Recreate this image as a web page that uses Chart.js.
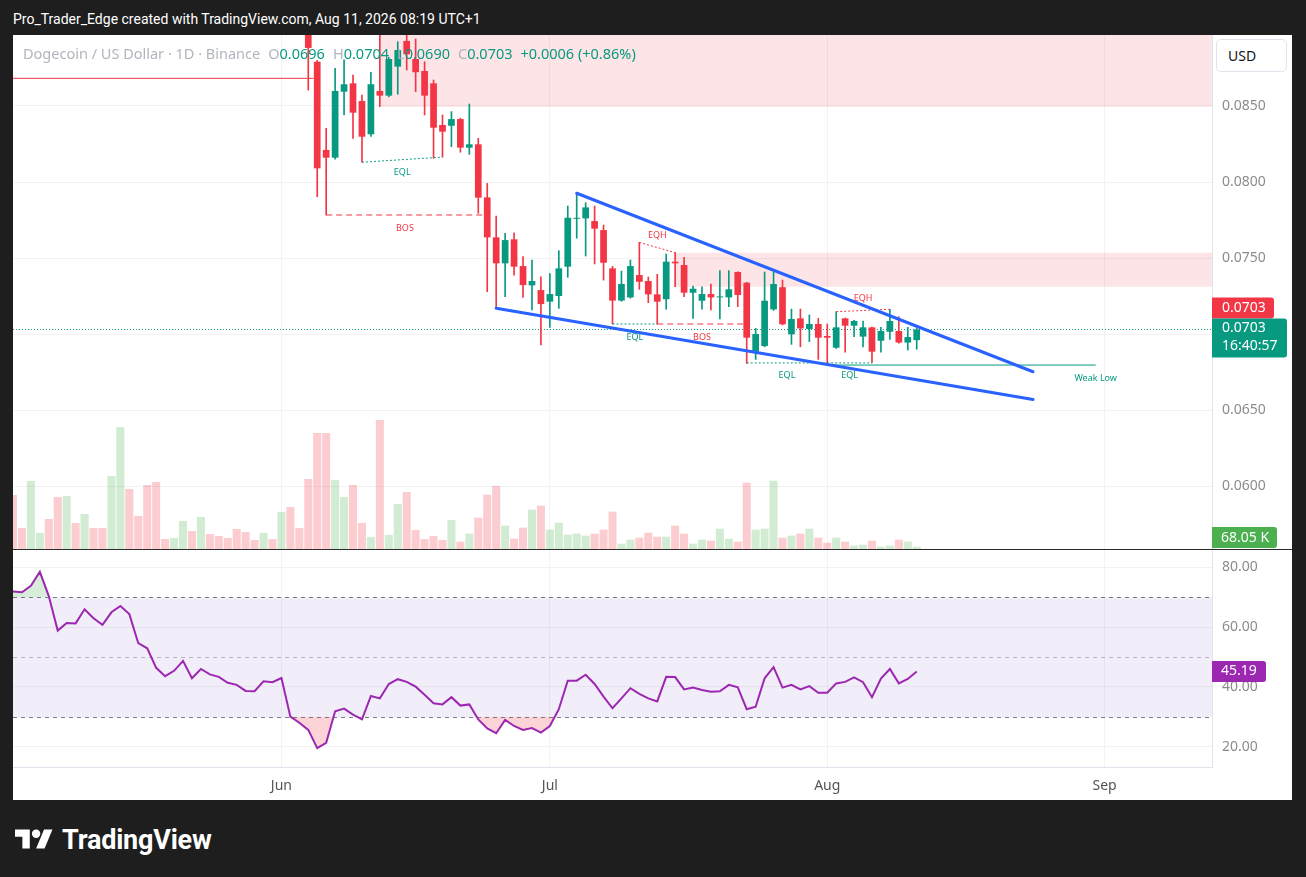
<!DOCTYPE html>
<html>
<head>
<meta charset="utf-8">
<script src="https://cdn.jsdelivr.net/npm/chart.js"></script>
<title>Dogecoin / US Dollar</title>
<style>
  html, body { margin: 0; padding: 0; }
  body { width: 1306px; height: 877px; background: #1e1e1e; overflow: hidden; position: relative;
         font-family: Roboto, "Noto Sans", sans-serif; }
  #title { position: absolute; left: 13px; top: 10px; color: #fff; font-size: 14px; line-height: 18px; }
  #panel { position: absolute; left: 13px; top: 35px; width: 1279px; height: 765px; background: #fff; }
  #mainBox { position: absolute; left: 0; top: 0; width: 1279px; height: 514px; }
  #sep { position: absolute; left: 0; top: 514px; width: 1279px; height: 1px; background: #2b2b2b; }
  #rsiBox { position: absolute; left: 0; top: 515px; width: 1279px; height: 250px; }
  #legend { position: absolute; left: 10px; top: 8px; font-family: "Noto Sans", Roboto, sans-serif;
            font-size: 14.5px; line-height: 20px; color: #b2b5be; white-space: pre; pointer-events: none; }
  #legend .v { color: #089981; }
  #legend .gap { margin-left: 8px; }
  #usd { position: absolute; left: 1203px; top: 4px; width: 71px; height: 33px; box-sizing: border-box;
         border: 1px solid #e0e3eb; border-radius: 5px; background: #fff; color: #131722;
         font-family: "Noto Sans", Roboto, sans-serif; font-size: 14px; line-height: 31px; padding-left: 11px; }
  #logo { position: absolute; left: 15px; top: 824px; display: flex; align-items: center; color: #fff;
          font-size: 27px; font-weight: 700; }
  #logo span { margin-left: 9px; letter-spacing: -0.2px; }
</style>
</head>
<body>
<div id="title">Pro_Trader_Edge created with TradingView.com, Aug 11, 2026 08:19 UTC+1</div>
<div id="panel">
  <div id="mainBox"><canvas id="mainChart"></canvas></div>
  <div id="sep"></div>
  <div id="rsiBox"><canvas id="rsiChart"></canvas></div>
  <div id="legend"></div>
  <div id="usd">USD</div>
</div>
<div id="logo">
  <svg width="38" height="30" viewBox="0 0 36 28"><path d="M14 22H7V11H0V4h14v18zM28 22h-8l7.5-18h8L28 22z" fill="#fff"/><circle cx="20" cy="8" r="4" fill="#fff"/></svg>
  <span>TradingView</span>
</div>

<script>
// days are counted from Jun 1 (May 2 = -30, Aug 11 = 71)
const firstDay = -30;
const candleStart = 3;
const xMin = -30, xMax = 104;
const monthTicks = [0, 30, 61, 92];
const monthLabels = ['Jun', 'Jul', 'Aug', 'Sep'];
const priceTicks = [0.0600, 0.0650, 0.0700, 0.0750, 0.0800, 0.0850];
const priceMin = 0.05586, priceMax = 0.08967;
const rsiTicks = [20, 40, 60, 80];
const rsiMin = 13.33, rsiMax = 85.67;
const volMax = 15420;

// daily candles Jun 4 .. Aug 11
const opens = [0.0905, 0.08791, 0.08211, 0.08160, 0.08594, 0.08649, 0.08533, 0.08314, 0.08599, 0.08568,
  0.08759, 0.08928, 0.08809, 0.08730, 0.08649, 0.08375, 0.08370, 0.08414, 0.08226, 0.08248,
  0.07899, 0.07636, 0.07465, 0.07623, 0.07447, 0.07320, 0.07289, 0.07213, 0.07250, 0.07443,
  0.07758, 0.07761, 0.07743, 0.07684, 0.07432, 0.07220, 0.07241, 0.07388, 0.07349, 0.07261,
  0.07229, 0.07476, 0.07454, 0.07272, 0.07219, 0.07263, 0.07241, 0.07241, 0.07408, 0.07338,
  0.06884, 0.06921, 0.07162, 0.07308, 0.06998, 0.07103, 0.07033, 0.07066, 0.06987, 0.06910,
  0.07103, 0.07055, 0.06983, 0.07044, 0.06956, 0.07015, 0.07020, 0.06944, 0.0696];
const highs = [0.0910, 0.0880, 0.08353, 0.08748, 0.08803, 0.08704, 0.08572, 0.08722, 0.0900, 0.0882,
  0.08923, 0.0898, 0.08941, 0.08791, 0.08671, 0.08441, 0.08463, 0.08420, 0.08513, 0.08287,
  0.07991, 0.07776, 0.07662, 0.07666, 0.07509, 0.07487, 0.07377, 0.07398, 0.07548, 0.07842,
  0.07926, 0.07864, 0.07842, 0.07717, 0.07445, 0.07414, 0.07487, 0.07603, 0.07375, 0.07393,
  0.07526, 0.07535, 0.07505, 0.07316, 0.07311, 0.07329, 0.07417, 0.07417, 0.07410, 0.07340,
  0.07037, 0.07408, 0.07408, 0.07355, 0.07164, 0.07164, 0.07125, 0.07103, 0.07066, 0.07147,
  0.07105, 0.07090, 0.07086, 0.07046, 0.07044, 0.07163, 0.07114, 0.07044, 0.0704];
const lows = [0.08605, 0.07903, 0.07783, 0.08150, 0.08441, 0.08287, 0.08130, 0.08300, 0.08495, 0.08560,
  0.08577, 0.08737, 0.08594, 0.08441, 0.08156, 0.08164, 0.08232, 0.08196, 0.08182, 0.07794,
  0.07278, 0.07169, 0.07245, 0.07388, 0.07241, 0.07158, 0.06928, 0.07044, 0.07169, 0.07373,
  0.07630, 0.07513, 0.07461, 0.07355, 0.07066, 0.07215, 0.07236, 0.07294, 0.07206, 0.07066,
  0.07163, 0.07311, 0.07245, 0.07103, 0.07163, 0.07158, 0.07099, 0.07180, 0.07180, 0.06807,
  0.06833, 0.06916, 0.07155, 0.07060, 0.06932, 0.06916, 0.06950, 0.06833, 0.06796, 0.06905,
  0.06880, 0.06983, 0.06916, 0.06812, 0.06880, 0.06965, 0.06940, 0.06895, 0.0690];
const closes = [0.08882, 0.08090, 0.08160, 0.08599, 0.08643, 0.08456, 0.08298, 0.08643, 0.08568, 0.08809,
  0.08868, 0.08840, 0.08722, 0.08568, 0.08357, 0.08331, 0.08414, 0.08226, 0.08248, 0.07897,
  0.07636, 0.07465, 0.07618, 0.07443, 0.07322, 0.07349, 0.07197, 0.07263, 0.07432, 0.07765,
  0.07763, 0.07833, 0.07693, 0.07469, 0.07220, 0.07329, 0.07447, 0.07344, 0.07261, 0.07213,
  0.07476, 0.07465, 0.07272, 0.07298, 0.07263, 0.07241, 0.07245, 0.07294, 0.07257, 0.06976,
  0.07000, 0.07219, 0.07329, 0.07064, 0.07099, 0.07037, 0.07066, 0.06976, 0.06976, 0.07044,
  0.07055, 0.07086, 0.07044, 0.06884, 0.07020, 0.07086, 0.06944, 0.06980, 0.0703];

// volume (K) and direction, May 2 .. Aug 11
const volumes = [1620, 630, 2040, 480, 900, 1560, 1590, 780, 1050, 630,
  630, 2190, 3660, 1800, 990, 1920, 2010, 300, 330, 840,
  540, 960, 450, 390, 330, 600, 510, 270, 480, 300,
  1110, 1260, 630, 2100, 3480, 3480, 2070, 1560, 1920, 780,
  360, 3870, 420, 1350, 1710, 570, 300, 390, 270, 870,
  220, 460, 940, 1630, 1900, 700, 310, 640, 1180, 1300,
  580, 790, 430, 460, 400, 460, 580, 1120, 160, 280,
  340, 490, 370, 370, 700, 460, 160, 280, 250, 610,
  310, 220, 1990, 580, 610, 2050, 340, 400, 460, 610,
  340, 190, 340, 220, 100, 130, 250, 70, 100, 280, 220, 68.05];
const volUp = [0, 0, 1, 1, 0, 0, 1, 0, 1, 0,
  0, 1, 1, 0, 0, 0, 0, 0, 1, 1,
  0, 1, 0, 0, 0, 0, 0, 0, 1, 0,
  1, 0, 0, 0, 0, 0, 1, 1, 0, 0,
  1, 0, 1, 1, 0, 0, 0, 0, 0, 1,
  0, 1, 0, 0, 0, 1, 0, 0, 1, 0,
  1, 1, 1, 1, 1, 0, 0, 0, 1, 1,
  0, 0, 0, 1, 0, 0, 1, 1, 0, 1,
  1, 0, 0, 1, 1, 1, 0, 1, 0, 1,
  0, 0, 1, 0, 1, 1, 0, 1, 1, 0, 1, 1];

// RSI 14, May 2 .. Aug 11
const rsi = [71.8, 71.6, 73.7, 78.4, 70.3, 58.8, 61.3, 61.2, 65.9, 62.9,
  60.7, 64.9, 67.0, 64.3, 54.6, 52.9, 46.4, 43.6, 45.4, 48.7,
  42.9, 46.0, 44.2, 43.4, 41.4, 40.7, 38.7, 38.6, 41.9, 41.6,
  43.0, 30.1, 28.1, 25.7, 19.6, 21.4, 31.9, 32.8, 30.8, 29.2,
  37.0, 36.2, 41.0, 42.6, 41.7, 40.1, 37.4, 34.6, 34.2, 36.6,
  33.8, 34.2, 29.2, 26.2, 24.6, 29.0, 27.0, 25.7, 26.3, 24.8,
  27.0, 32.6, 42.1, 42.1, 44.1, 41.0, 36.8, 32.9, 36.2, 39.6,
  37.7, 36.2, 35.2, 43.4, 43.3, 39.2, 39.8, 39.0, 38.4, 38.6,
  40.7, 39.9, 32.6, 33.4, 42.9, 46.6, 39.8, 40.7, 39.2, 40.3,
  38.1, 38.1, 41.2, 41.7, 43.2, 41.6, 36.6, 42.8, 46.0, 41.2, 42.7, 45.19];
const rsiLevels = [70, 50, 30];

// supply zones: start day, top, bottom
const zones = [[11, 0.0905, 0.08495], [44, 0.07535, 0.07311]];
// structure marks: kind, [day, price] -> [day, price]
const marks = [
  ['level', [-30, 0.08682], [3.6, 0.08682]],
  ['EQL', [9, 0.08130], [18, 0.08164]],
  ['BOS', [5, 0.07783], [22.6, 0.07783]],
  ['EQH', [40, 0.07603], [44, 0.07535]],
  ['EQL', [37, 0.07066], [42, 0.07066]],
  ['BOS', [42, 0.07066], [52, 0.07066]],
  ['EQL', [52, 0.06810], [61, 0.06810]],
  ['EQL', [61, 0.06810], [66, 0.06810]],
  ['EQH', [62, 0.07147], [68, 0.07163]],
  ['Weak Low', [61, 0.06796], [91, 0.06796]]
];
const wedgeTop = [[33, 0.07926], [84, 0.06752]];
const wedgeBottom = [[24, 0.07169], [84, 0.06570]];
const countdown = '16:40:57';
const changeText = '+0.0006 (+0.86%)';

const GREEN = '#089981', RED = '#f23645', BLUE = '#2962ff', PURPLE = '#9c27b0';
const FONT = '"Noto Sans", Roboto, sans-serif';
Chart.defaults.font.family = FONT;
Chart.defaults.animation = false;

const markStyle = {
  'level': { color: RED, dash: [], dy: 0 },
  'EQL': { color: GREEN, dash: [2, 2], dy: 13 },
  'EQH': { color: RED, dash: [2, 2], dy: -12 },
  'BOS': { color: RED, dash: [6, 4], dy: 13 },
  'Weak Low': { color: GREEN, dash: [], dy: 13, atEnd: true }
};

const last = closes.length - 1;
const f4 = v => v.toFixed(4);
document.getElementById('legend').innerHTML =
  'Dogecoin / US Dollar · 1D · Binance' +
  '<span class="gap">O</span><span class="v">' + f4(opens[last]) + '</span>' +
  '<span class="gap">H</span><span class="v">' + f4(highs[last]) + '</span>' +
  '<span class="gap">L</span><span class="v">' + f4(lows[last]) + '</span>' +
  '<span class="gap">C</span><span class="v">' + f4(closes[last]) + '</span>' +
  '<span class="gap v">' + changeText + '</span>';

function xAxis(showLabels) {
  return {
    type: 'linear', min: xMin, max: xMax, offset: false,
    afterBuildTicks: s => { s.ticks = monthTicks.map(v => ({ value: v })); },
    afterFit: s => { s.height = showLabels ? 33 : 0; s.paddingLeft = 0; s.paddingRight = 0; },
    grid: { color: '#f2f2f2', drawTicks: false, offset: false },
    border: { display: showLabels, color: '#e0e3eb' },
    ticks: {
      display: showLabels, color: '#555', font: { size: 14 }, padding: 11,
      maxRotation: 0, autoSkip: false,
      callback: v => monthLabels[monthTicks.indexOf(v)]
    }
  };
}

function yAxis(min, max, ticks, fmt) {
  return {
    position: 'right', min: min, max: max,
    afterBuildTicks: s => { s.ticks = ticks.map(v => ({ value: v })); },
    afterFit: s => { s.width = 80; s.paddingTop = 0; s.paddingBottom = 0; },
    grid: { color: '#f2f2f2', drawTicks: false },
    border: { display: true, color: '#e0e3eb' },
    ticks: { color: '#8c8c8c', font: { size: 14 }, padding: 10, callback: fmt }
  };
}

function axisBox(ctx, x, y, w, h, color) {
  ctx.fillStyle = color;
  ctx.beginPath();
  ctx.roundRect(x, y, w, h, [0, 3, 3, 0]);
  ctx.fill();
}

const zonePlugin = {
  id: 'zones',
  beforeDatasetsDraw(chart) {
    const { ctx, chartArea: a, scales: { x, y } } = chart;
    ctx.save();
    ctx.beginPath();
    ctx.rect(a.left, a.top, a.width, a.height);
    ctx.clip();
    ctx.fillStyle = 'rgba(242,54,69,0.13)';
    zones.forEach(z => {
      const x0 = x.getPixelForValue(z[0]);
      const y0 = y.getPixelForValue(z[1]);
      const y1 = y.getPixelForValue(z[2]);
      ctx.fillRect(x0, y0, a.right - x0, y1 - y0);
    });
    // last price line
    const py = y.getPixelForValue(closes[last]);
    ctx.strokeStyle = GREEN;
    ctx.lineWidth = 1;
    ctx.setLineDash([1, 2]);
    ctx.beginPath();
    ctx.moveTo(a.left, Math.round(py) + 0.5);
    ctx.lineTo(a.right, Math.round(py) + 0.5);
    ctx.stroke();
    ctx.restore();
  },
  afterDatasetsDraw(chart) {
    const { ctx, scales: { x, y } } = chart;
    ctx.save();
    ctx.font = '9px ' + FONT;
    ctx.textAlign = 'center';
    ctx.textBaseline = 'middle';
    marks.forEach(m => {
      const st = markStyle[m[0]];
      if (m[0] === 'level') return;
      const p0 = [x.getPixelForValue(m[1][0]), y.getPixelForValue(m[1][1])];
      const p1 = [x.getPixelForValue(m[2][0]), y.getPixelForValue(m[2][1])];
      const tx = st.atEnd ? p1[0] : (p0[0] + p1[0]) / 2;
      const ty = (p0[1] + p1[1]) / 2 + st.dy;
      ctx.fillStyle = st.color;
      ctx.fillText(m[0], tx, ty);
    });
    ctx.restore();
  },
  afterDraw(chart) {
    const { ctx, chartArea: a, scales: { y } } = chart;
    const py = y.getPixelForValue(closes[last]);
    ctx.save();
    ctx.font = '14px ' + FONT;
    ctx.textBaseline = 'middle';
    ctx.textAlign = 'left';
    axisBox(ctx, a.right, py - 32, 62, 21, RED);
    axisBox(ctx, a.right, py - 11, 75, 39, GREEN);
    axisBox(ctx, a.right, a.bottom - 22, 65, 21, '#4caf50');
    ctx.fillStyle = '#fff';
    ctx.fillText(f4(closes[last]), a.right + 10, py - 21);
    ctx.fillText(f4(closes[last]), a.right + 10, py - 1);
    ctx.fillText(countdown, a.right + 10, py + 17);
    ctx.fillText(volumes[volumes.length - 1].toFixed(2) + ' K', a.right + 9, a.bottom - 11);
    ctx.restore();
  }
};

const markSets = marks.map(m => ({
  type: 'line', order: 2, yAxisID: 'y',
  data: [{ x: m[1][0], y: m[1][1] }, { x: m[2][0], y: m[2][1] }],
  borderColor: markStyle[m[0]].color, borderWidth: 1, borderDash: markStyle[m[0]].dash,
  pointRadius: 0, fill: false
}));
const wedgeSets = [wedgeTop, wedgeBottom].map(w => ({
  type: 'line', order: 1, yAxisID: 'y',
  data: w.map(p => ({ x: p[0], y: p[1] })),
  borderColor: BLUE, borderWidth: 3, pointRadius: 0, fill: false, borderCapStyle: 'round'
}));
const candleColors = opens.map((o, i) => closes[i] >= o ? GREEN : RED);

new Chart(document.getElementById('mainChart'), {
  type: 'bar',
  data: {
    datasets: [
      {
        label: 'Volume', yAxisID: 'yVol', order: 10, grouped: false,
        data: volumes.map((v, i) => ({ x: firstDay + i, y: v })),
        backgroundColor: volUp.map(u => u ? 'rgba(76,175,80,0.25)' : 'rgba(242,54,69,0.25)'),
        barPercentage: 0.9, categoryPercentage: 1
      },
      {
        label: 'Wicks', yAxisID: 'y', order: 6, grouped: false,
        data: highs.map((h, i) => ({ x: candleStart + i, y: [lows[i], h] })),
        backgroundColor: candleColors, barThickness: 1
      },
      {
        label: 'Bodies', yAxisID: 'y', order: 5, grouped: false,
        data: opens.map((o, i) => ({ x: candleStart + i, y: [o, closes[i]] })),
        backgroundColor: candleColors, barPercentage: 0.75, categoryPercentage: 1, minBarLength: 1
      },
      ...markSets,
      ...wedgeSets
    ]
  },
  options: {
    responsive: true, maintainAspectRatio: false,
    layout: { padding: 0 },
    plugins: { legend: { display: false }, tooltip: { enabled: false } },
    scales: {
      x: xAxis(false),
      y: yAxis(priceMin, priceMax, priceTicks, v => v.toFixed(4)),
      yVol: { display: false, min: 0, max: volMax }
    }
  },
  plugins: [zonePlugin]
});

const rsiPlugin = {
  id: 'rsiBands',
  beforeDatasetsDraw(chart) {
    const { ctx, chartArea: a, scales: { y } } = chart;
    const yTop = y.getPixelForValue(rsiLevels[0]);
    const yBot = y.getPixelForValue(rsiLevels[2]);
    ctx.save();
    ctx.fillStyle = 'rgba(126,87,194,0.1)';
    ctx.fillRect(a.left, yTop, a.width, yBot - yTop);
    ctx.lineWidth = 1;
    ctx.setLineDash([4, 4]);
    rsiLevels.forEach((lv, i) => {
      const py = Math.round(y.getPixelForValue(lv)) + 0.5;
      ctx.strokeStyle = i === 1 ? 'rgba(120,123,134,0.5)' : '#787b86';
      ctx.beginPath();
      ctx.moveTo(a.left, py);
      ctx.lineTo(a.right, py);
      ctx.stroke();
    });
    ctx.restore();
  },
  afterDraw(chart) {
    const { ctx, chartArea: a, scales: { y } } = chart;
    const v = rsi[rsi.length - 1];
    const py = y.getPixelForValue(v);
    ctx.save();
    axisBox(ctx, a.right, py - 10.5, 54, 21, PURPLE);
    ctx.fillStyle = '#fff';
    ctx.font = '14px ' + FONT;
    ctx.textBaseline = 'middle';
    ctx.fillText(v.toFixed(2), a.right + 9, py);
    ctx.restore();
  }
};

const rsiPoints = rsi.map((v, i) => ({ x: firstDay + i, y: v }));
new Chart(document.getElementById('rsiChart'), {
  type: 'line',
  data: {
    datasets: [
      { label: 'RSI', data: rsiPoints, borderColor: PURPLE, borderWidth: 2, pointRadius: 0, tension: 0, fill: false, order: 1 },
      { label: 'OB', data: rsiPoints, borderColor: 'transparent', borderWidth: 0, pointRadius: 0, order: 2,
        fill: { target: { value: 70 }, above: 'rgba(76,175,80,0.22)', below: 'rgba(0,0,0,0)' } },
      { label: 'OS', data: rsiPoints, borderColor: 'transparent', borderWidth: 0, pointRadius: 0, order: 3,
        fill: { target: { value: 30 }, above: 'rgba(0,0,0,0)', below: 'rgba(242,54,69,0.22)' } }
    ]
  },
  options: {
    responsive: true, maintainAspectRatio: false,
    layout: { padding: 0 },
    plugins: { legend: { display: false }, tooltip: { enabled: false } },
    scales: {
      x: xAxis(true),
      y: yAxis(rsiMin, rsiMax, rsiTicks, v => v.toFixed(2))
    }
  },
  plugins: [rsiPlugin]
});
</script>
</body>
</html>
